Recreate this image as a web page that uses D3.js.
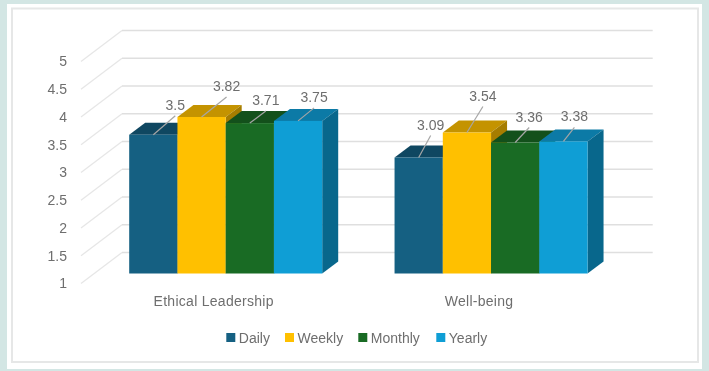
<!DOCTYPE html>
<html>
<head>
<meta charset="utf-8">
<script src="https://cdn.jsdelivr.net/npm/d3@7"></script>
<style>
  html, body { margin: 0; padding: 0; background: #d3e6e4; overflow: hidden; }
  svg { display: block; filter: blur(0.4px); }
  text { font-family: "Liberation Sans", Arial, sans-serif; fill: #6e6e6e; }
</style>
</head>
<body>
<div id="chart"></div>
<script>
const categories = ["Ethical Leadership", "Well-being"];
const seriesNames = ["Daily", "Weekly", "Monthly", "Yearly"];
const ethicalValues = [3.5, 3.82, 3.71, 3.75];
const wellbeingValues = [3.09, 3.54, 3.36, 3.38];
const yTicks = [1, 1.5, 2, 2.5, 3, 3.5, 4, 4.5, 5];
const seriesColors = ["#156082", "#ffc000", "#196b24", "#0f9ed5"];
const topColors = ["#0f4761", "#c49300", "#13501b", "#0c7aa6"];
const sideColors = ["#0f4761", "#a67d00", "#114a19", "#08678c"];

// label offsets from the front middle of each bar top, [dx, dy]
const leaderEnds = [
  [[22, -19], [25, -20], [16, -12], [16, -13]],
  [[12, -22], [16, -26], [14, -15], [11, -14]]
];

const width = 709, height = 371;
const floorDepth = [41, -31];
const barShift = [12, -10];
const barDepth = [16, -12];

const svg = d3.select("#chart").append("svg")
  .attr("width", width)
  .attr("height", height);

// panel with thin inner border
svg.append("rect").attr("x", 7).attr("y", 4).attr("width", 695).attr("height", 365).attr("fill", "#fff");
svg.append("rect").attr("x", 12).attr("y", 8.5).attr("width", 686).attr("height", 353.5)
  .attr("fill", "#fff").attr("stroke", "#e6e7e7").attr("stroke-width", 2);

const x0 = d3.scaleBand().domain(categories).range([81, 611.7]);
const x1 = d3.scaleBand().domain(seriesNames).range([36.2, 229.2]);
const y = d3.scaleLinear().domain([1, 5]).range([283.5, 61.5]);

const grid = svg.append("g").attr("fill", "none");
yTicks.forEach(t => {
  const backX = x0.range()[0] + floorDepth[0];
  const backY = y(t) + floorDepth[1];
  grid.append("line")
    .attr("x1", x0.range()[0]).attr("y1", y(t)).attr("x2", backX).attr("y2", backY)
    .attr("stroke", "#e6e6e6").attr("stroke-width", 1.2);
  grid.append("line")
    .attr("x1", backX).attr("y1", backY).attr("x2", x0.range()[1] + floorDepth[0]).attr("y2", backY)
    .attr("stroke", "#dfdfdf").attr("stroke-width", 1.5);
});

const yAxis = svg.append("g")
  .attr("transform", "translate(67,0)")
  .call(d3.axisLeft(y).tickValues(yTicks).tickSize(0).tickPadding(0).tickFormat(d => d));
yAxis.select(".domain").remove();
yAxis.selectAll("text").style("font-size", "14px").style("font-family", "\"Liberation Sans\", Arial, sans-serif").style("fill", "#6e6e6e");

const xAxis = svg.append("g")
  .attr("transform", "translate(0,296)")
  .call(d3.axisBottom(x0).tickSize(0).tickPadding(0));
xAxis.select(".domain").remove();
xAxis.selectAll("text").style("font-size", "14px").style("letter-spacing", "0.28px")
  .style("font-family", "\"Liberation Sans\", Arial, sans-serif").style("fill", "#6e6e6e");

const valuesByCategory = [ethicalValues, wellbeingValues];
const baseY = y(1) + barShift[1];

categories.forEach((cat, ci) => {
  const g = svg.append("g");
  seriesNames.forEach((name, si) => {
    const v = valuesByCategory[ci][si];
    const left = x0(cat) + x1(name) + barShift[0];
    const right = left + x1.bandwidth();
    const top = y(v) + barShift[1];
    // top face
    g.append("polygon")
      .attr("fill", topColors[si])
      .attr("points", [[left, top], [right, top],
        [right + barDepth[0], top + barDepth[1]], [left + barDepth[0], top + barDepth[1]]].join(" "));
    // right face
    g.append("polygon")
      .attr("fill", sideColors[si])
      .attr("points", [[right, top], [right + barDepth[0], top + barDepth[1]],
        [right + barDepth[0], baseY + barDepth[1]], [right, baseY]].join(" "));
    // front face
    g.append("rect")
      .attr("x", left).attr("y", top)
      .attr("width", x1.bandwidth()).attr("height", baseY - top)
      .attr("fill", seriesColors[si]);
  });
  // leader lines and values go over all the bars of the group
  seriesNames.forEach((name, si) => {
    const v = valuesByCategory[ci][si];
    const cx = x0(cat) + x1(name) + barShift[0] + x1.bandwidth() / 2;
    const top = y(v) + barShift[1];
    const end = leaderEnds[ci][si];
    g.append("line")
      .attr("x1", cx).attr("y1", top)
      .attr("x2", cx + end[0]).attr("y2", top + end[1])
      .attr("stroke", "#a6a6a6").attr("stroke-width", 1.2);
    g.append("text")
      .attr("x", cx + end[0]).attr("y", top + end[1] - 6)
      .attr("text-anchor", "middle")
      .style("font-size", "14px")
      .text(v);
  });
});

// legend, swatch x positions
const legendX = d3.scaleOrdinal().domain(seriesNames).range([226.3, 285, 358.3, 436.3]);
const legend = svg.append("g").selectAll("g").data(seriesNames).join("g")
  .attr("transform", d => `translate(${legendX(d)},333)`);
legend.append("rect").attr("width", 9).attr("height", 9).attr("fill", (d, i) => seriesColors[i]);
legend.append("text").attr("x", 12.5).attr("y", 10).style("font-size", "14px").text(d => d);
</script>
</body>
</html>
